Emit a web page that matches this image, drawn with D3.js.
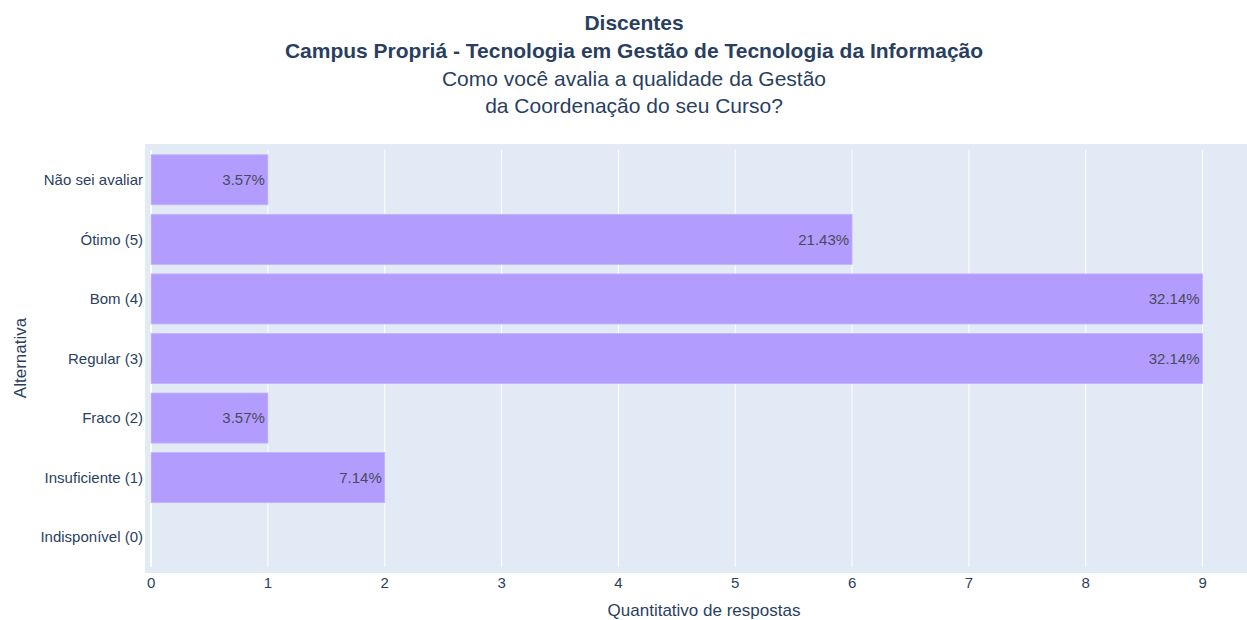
<!DOCTYPE html>
<html>
<head>
<meta charset="utf-8">
<script src="https://cdn.jsdelivr.net/npm/d3@7"></script>
<style>
  body { margin: 0; background: #fff; }
  text { font-family: "Liberation Sans", Arial, sans-serif; }
</style>
</head>
<body>
<div id="chart"></div>
<script>
var categories = ['Não sei avaliar', 'Ótimo (5)', 'Bom (4)', 'Regular (3)', 'Fraco (2)', 'Insuficiente (1)', 'Indisponível (0)'];
var counts = [1, 6, 9, 9, 1, 2, 0];
var labels = ['3.57%', '21.43%', '32.14%', '32.14%', '3.57%', '7.14%', ''];
var xTicks = [0, 1, 2, 3, 4, 5, 6, 7, 8, 9];
var titleLines = ['Discentes', 'Campus Propriá - Tecnologia em Gestão de Tecnologia da Informação', 'Como você avalia a qualidade da Gestão', 'da Coordenação do seu Curso?'];

var width = 1247, height = 620;
var bg = {left: 145, right: 1247, top: 144, bottom: 573};
var inner = {top: 150, bottom: 567};

var svg = d3.select('#chart')
    .append('svg')
    .attr('width', width)
    .attr('height', height);

var x = d3.scaleLinear()
    .domain([-0.052, 9.38])
    .range([bg.left, bg.right]);

var y = d3.scaleBand()
    .domain(categories)
    .range([inner.top, inner.bottom])
    .paddingInner(0.16)
    .paddingOuter(0.08);

svg.append('rect')
    .attr('x', bg.left)
    .attr('y', bg.top)
    .attr('width', bg.right - bg.left)
    .attr('height', bg.bottom - bg.top)
    .attr('fill', '#e1eaf5');

// grid lines
svg.append('g')
    .selectAll('line')
    .data(xTicks)
    .enter()
    .append('line')
    .attr('x1', function(d) { return x(d) })
    .attr('x2', function(d) { return x(d) })
    .attr('y1', inner.top)
    .attr('y2', inner.bottom)
    .attr('stroke', '#fff')
    .attr('stroke-width', function(d) { return d === 0 ? 2 : 1 });

// bars
var bar = svg.append('g')
    .selectAll('g')
    .data(categories)
    .enter()
    .append('g');

bar.append('rect')
    .attr('x', x(0))
    .attr('y', function(d) { return y(d) })
    .attr('width', function(d, i) { return x(counts[i]) - x(0) })
    .attr('height', y.bandwidth())
    .attr('fill', '#b29dff')
    .attr('stroke', '#c3b3ff')
    .attr('stroke-width', 0.8)
    .attr('display', function(d, i) { return counts[i] > 0 ? null : 'none' });

bar.append('text')
    .attr('x', function(d, i) { return x(counts[i]) - 3 })
    .attr('y', function(d) { return y(d) + y.bandwidth() / 2 })
    .attr('dy', '0.35em')
    .attr('text-anchor', 'end')
    .attr('font-size', 15)
    .attr('fill', '#4a4a5a')
    .text(function(d, i) { return labels[i] });

// y axis labels
svg.append('g')
    .selectAll('text')
    .data(categories)
    .enter()
    .append('text')
    .attr('x', bg.left - 2)
    .attr('y', function(d) { return y(d) + y.bandwidth() / 2 })
    .attr('dy', '0.35em')
    .attr('text-anchor', 'end')
    .attr('font-size', 15)
    .attr('fill', '#2a3f5f')
    .text(function(d) { return d });

// x axis labels
svg.append('g')
    .selectAll('text')
    .data(xTicks)
    .enter()
    .append('text')
    .attr('x', function(d) { return x(d) })
    .attr('y', 583)
    .attr('dy', '0.35em')
    .attr('text-anchor', 'middle')
    .attr('font-size', 15)
    .attr('fill', '#2a3f5f')
    .text(function(d) { return d });

svg.append('text')
    .attr('x', 704)
    .attr('y', 610)
    .attr('dy', '0.35em')
    .attr('text-anchor', 'middle')
    .attr('font-size', 17)
    .attr('fill', '#2a3f5f')
    .text('Quantitativo de respostas');

svg.append('text')
    .attr('transform', 'translate(20,358) rotate(-90)')
    .attr('dy', '0.35em')
    .attr('text-anchor', 'middle')
    .attr('font-size', 17)
    .attr('fill', '#2a3f5f')
    .text('Alternativa');

// title
var titleY = [23, 51, 79, 106];
svg.append('g')
    .selectAll('text')
    .data(titleLines)
    .enter()
    .append('text')
    .attr('x', 634)
    .attr('y', function(d, i) { return titleY[i] })
    .attr('dy', '0.35em')
    .attr('text-anchor', 'middle')
    .attr('font-size', 21)
    .attr('font-weight', function(d, i) { return i < 2 ? 'bold' : 'normal' })
    .attr('fill', '#2a3f5f')
    .text(function(d) { return d });
</script>
</body>
</html>
